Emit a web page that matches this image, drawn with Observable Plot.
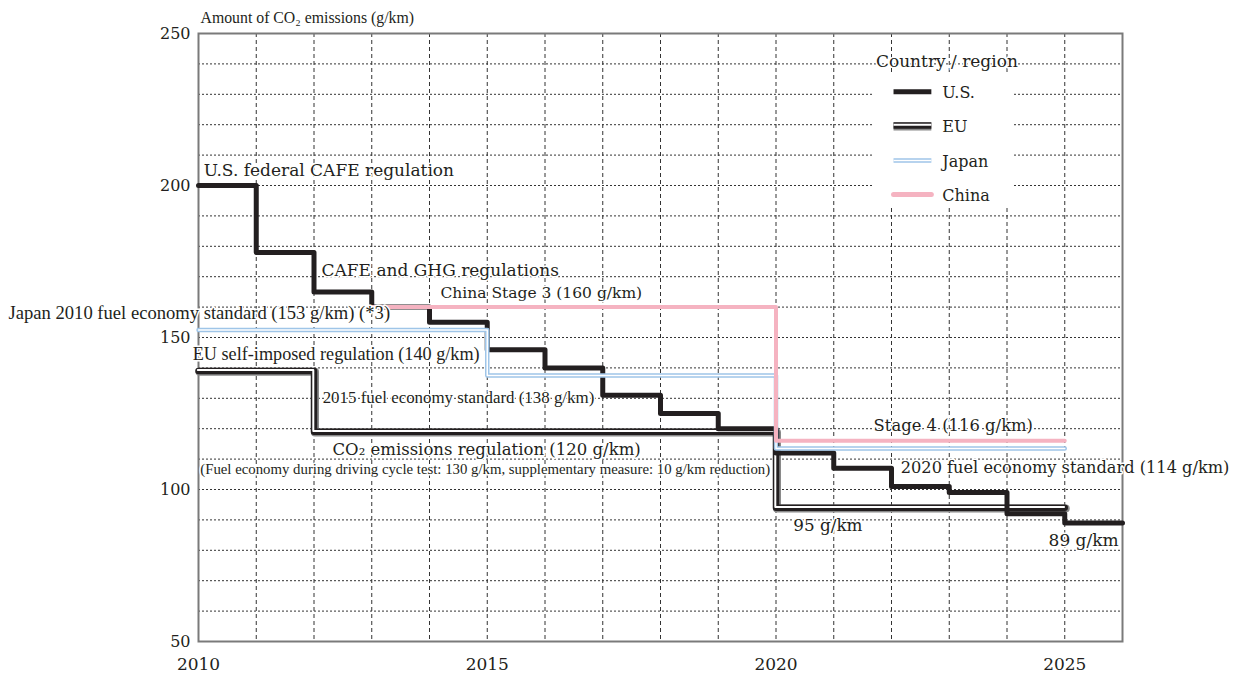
<!DOCTYPE html>
<html><head><meta charset="utf-8">
<script src="https://cdn.jsdelivr.net/npm/d3@7"></script>
<script src="https://cdn.jsdelivr.net/npm/@observablehq/plot@0.6"></script>
<style>body{margin:0;background:#fff}</style>
</head><body><div id="chart"></div>
<script>
// ---- data ----
const xTicks = [2010, 2015, 2020, 2025];
const yTicks = [50, 100, 150, 200, 250];
const gridYears = [2011,2012,2013,2014,2015,2016,2017,2018,2019,2020,2021,2022,2023,2024,2025];
const gridValues = [60,70,80,90,100,110,120,130,140,150,160,170,180,190,200,210,220,230,240];

const usYears   = [2010,2011,2012,2013,2014,2015,2016,2017,2018,2019,2020,2021,2022,2023,2024,2025,2026];
const usValues  = [200, 178, 165, 160, 155, 146, 140, 131, 125, 120, 112, 107, 101, 99,  92,  89,  89];
const euYears   = [2010, 2012, 2020, 2025];
const euValues  = [140,  120,  95,   95];
const jpYears   = [2010, 2015, 2020, 2025];
const jpValues  = [153,  138,  114,  114];
const cnYears   = [2013, 2020, 2025];
const cnValues  = [160,  116,  116];

const legendNames = ["U.S.", "EU", "Japan", "China"];
const legendRowY  = [230.8, 219.7, 208.2, 197.0];

// wide-set annotations
const annoText = [
  "U.S. federal CAFE regulation",
  "CAFE and GHG regulations",
  "China Stage 3 (160 g/km)",
  "CO₂ emissions regulation (120 g/km)",
  "Stage 4 (116 g/km)",
  "2020 fuel economy standard (114 g/km)",
  "95 g/km",
  "89 g/km"
];
const annoX = [2010.09, 2012.13, 2014.19, 2012.32, 2021.69, 2022.16, 2020.3, 2024.72];
const annoY = [204.9, 172, 164.5, 113.2, 121, 107.2, 88.2, 83.2];
const annoSize = [17, 17, 15.5, 16.5, 16.4, 16.2, 16.8, 17];

// narrow-set annotations
const noteText = [
  "Japan 2010 fuel economy standard (153 g/km) (*3)",
  "EU self-imposed regulation (140 g/km)",
  "2015 fuel economy standard (138 g/km)",
  "(Fuel economy during driving cycle test: 130 g/km, supplementary measure: 10 g/km reduction)"
];
const noteX = [2006.71, 2009.9, 2012.15, 2010.03];
const noteY = [157.9, 144.4, 130.3, 106.6];
const noteSize = [18.6, 18.2, 16.9, 14.8];

// ---- build tables ----
const zip = (xs, ys) => xs.map((x, i) => ({x, y: ys[i]}));
const us = zip(usYears, usValues), eu = zip(euYears, euValues), jp = zip(jpYears, jpValues), cn = zip(cnYears, cnValues);
const annos = annoText.map((t, i) => ({t, x: annoX[i], y: annoY[i], s: annoSize[i]}));
const notes = noteText.map((t, i) => ({t, x: noteX[i], y: noteY[i], s: noteSize[i]}));
const legendSeg = legendNames.map((n, i) => ({n, x1: 2022.035, x2: 2022.69, y: legendRowY[i]}));

const SERIF = "DejaVu Serif", NARROW = "Liberation Serif";
const US_C = "#231f20", PINK = "#f5b3c1", BLUE = "#9fc5e8", GRAY = "#8a8a8a";

function seg(data, opts) { return Plot.line(data, {x: "x", y: "y", curve: "step-after", ...opts}); }
function legLine(row, opts) {
  return Plot.link([row], {x1: "x1", x2: "x2", y1: "y", y2: "y", ...opts});
}

const chart = Plot.plot({
  width: 1237, height: 674,
  marginLeft: 198, marginRight: 115, marginTop: 33, marginBottom: 33,
  x: {domain: [2010, 2026]},
  y: {domain: [50, 250]},
  style: {fontFamily: SERIF, fontSize: "16px", background: "#fff", color: "#231f20"},
  marks: [
    Plot.ruleX(gridYears, {stroke: "#333", strokeWidth: 1, strokeDasharray: "4,3"}),
    Plot.ruleY(gridValues, {stroke: "#333", strokeWidth: 1, strokeDasharray: "2,2"}),
    Plot.frame({stroke: "#7a7a7a", strokeWidth: 2}),
    // EU: triple line
    seg(eu, {stroke: GRAY, strokeWidth: 8, dx: 1, dy: 3.8}),
    seg(eu, {stroke: US_C, strokeWidth: 6.5, dy: 3}),
    seg(eu, {stroke: "#fff", strokeWidth: 2, dx: -0.7, dy: 2.2}),
    // U.S.
    seg(us, {stroke: US_C, strokeWidth: 5}),
    // Japan: double blue
    seg(jp, {stroke: BLUE, strokeWidth: 4.5, dy: 1.5}),
    seg(jp, {stroke: "#fff", strokeWidth: 1.5, dy: 1.5}),
    // China
    seg(cn, {stroke: PINK, strokeWidth: 4}),
    // legend
    Plot.rect([{x1: 2021.69, x2: 2024.1, y1: 193.4, y2: 236.8}], {x1: "x1", x2: "x2", y1: "y1", y2: "y2", fill: "#fff"}),
    Plot.text(["Country / region"], {x: 2021.73, y: 240.9, text: d => d, textAnchor: "start", fontFamily: SERIF, fontSize: 17, stroke: "#fff", strokeWidth: 3, fill: US_C}),
    legLine(legendSeg[0], {stroke: US_C, strokeWidth: 5}),
    legLine(legendSeg[1], {stroke: GRAY, strokeWidth: 8, dy: 0.8}),
    legLine(legendSeg[1], {stroke: US_C, strokeWidth: 6.5}),
    legLine(legendSeg[1], {stroke: "#fff", strokeWidth: 2, dy: -0.8}),
    legLine(legendSeg[2], {stroke: BLUE, strokeWidth: 4.5}),
    legLine(legendSeg[2], {stroke: "#fff", strokeWidth: 1.5}),
    legLine(legendSeg[3], {stroke: PINK, strokeWidth: 5, strokeLinecap: "round"}),
    Plot.text(legendSeg, {x: 2022.88, y: "y", text: "n", textAnchor: "start", fontFamily: SERIF, fontSize: 16, dy: 1.5, fill: US_C}),
    // annotations
    Plot.text(annos, {x: "x", y: "y", text: "t", textAnchor: "start", fontSize: "s", fontFamily: SERIF, fill: US_C, stroke: "#fff", strokeWidth: 3}),
    Plot.text(notes, {x: "x", y: "y", text: "t", textAnchor: "start", fontSize: "s", fontFamily: NARROW, fill: US_C, stroke: "#fff", strokeWidth: 3}),
    // axis title
    Plot.text(["Amount of CO₂ emissions (g/km)"], {x: 2010, y: 250, dx: 2, dy: -16, text: d => d, textAnchor: "start", fontFamily: NARROW, fontSize: 15.8, fill: US_C}),
    Plot.axisX({ticks: xTicks, tickFormat: d => String(d), tickSize: 0, tickPadding: 16, fontSize: 17, label: null}),
    Plot.axisY({ticks: yTicks, tickSize: 0, tickPadding: 8, fontSize: 16, label: null})
  ]
});
document.getElementById("chart").append(chart);
</script>
</body></html>
